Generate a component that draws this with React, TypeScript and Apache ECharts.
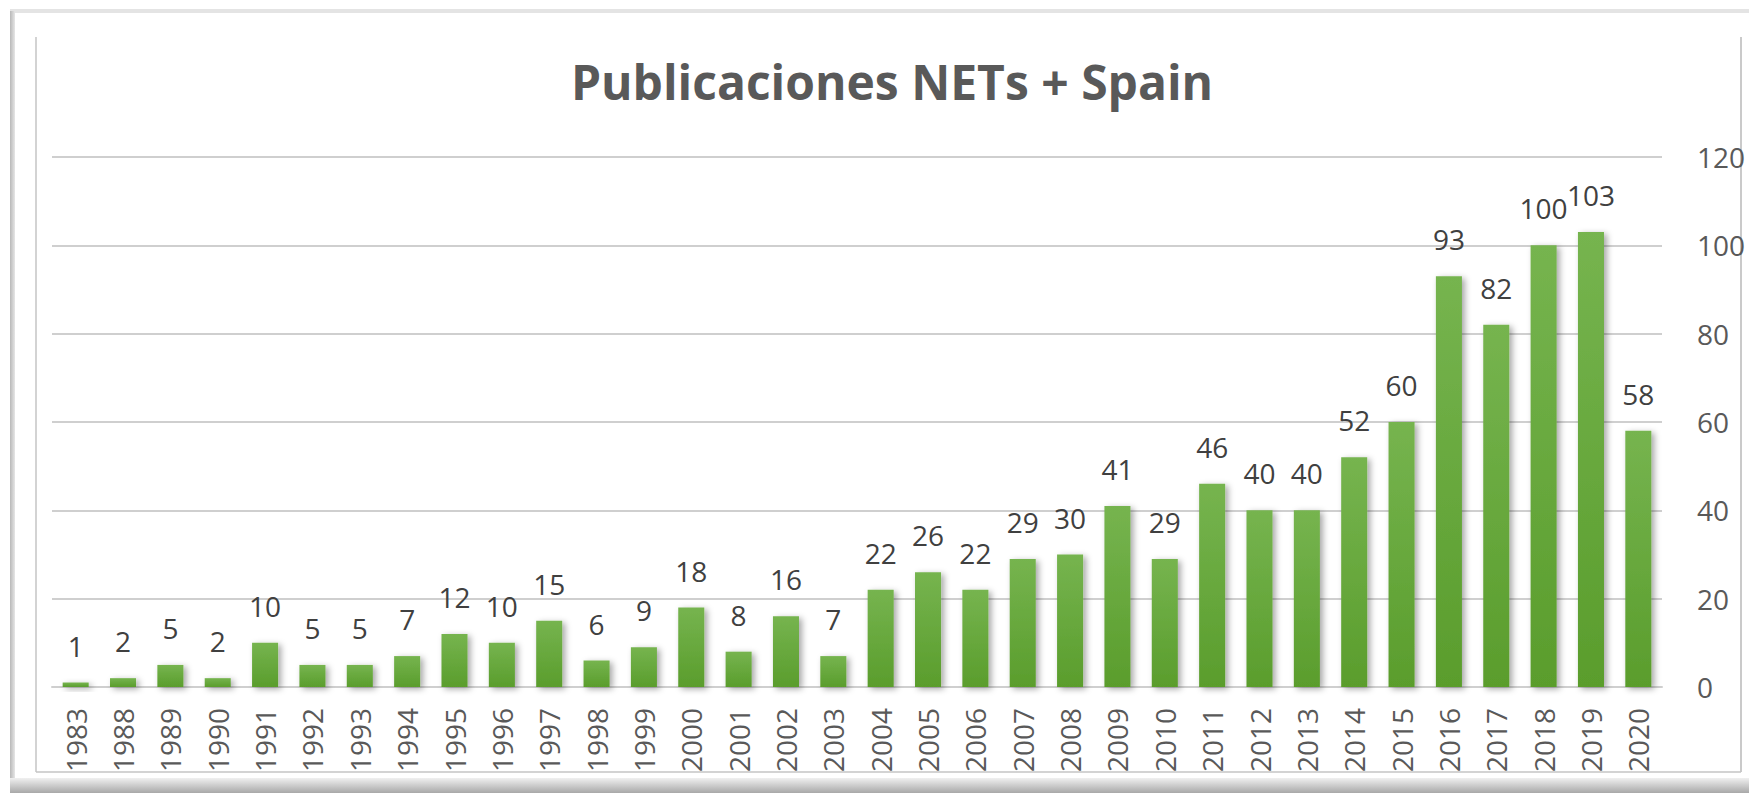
import React, { useEffect, useRef } from "react";
import * as echarts from "echarts";

const years = ["1983","1988","1989","1990","1991","1992","1993","1994","1995","1996","1997","1998","1999","2000","2001","2002","2003","2004","2005","2006","2007","2008","2009","2010","2011","2012","2013","2014","2015","2016","2017","2018","2019","2020"];
const publications = [1,2,5,2,10,5,5,7,12,10,15,6,9,18,8,16,7,22,26,22,29,30,41,29,46,40,40,52,60,93,82,100,103,58];
const titleText = "Publicaciones NETs + Spain";
const yMax = 120;
const yInterval = 20;

const W = 1749;
const H = 793;
const FONT = "'Open Sans', 'Noto Sans', sans-serif";

export default function App() {
  const ref = useRef<HTMLDivElement>(null);
  useEffect(() => {
    document.body.style.margin = "0";
    const chart = echarts.init(ref.current!, null, { renderer: "svg", width: W, height: H });
    chart.setOption({
      animation: false,
      backgroundColor: "#ffffff",
      title: {
        text: titleText,
        left: 887,
        top: 52,
        textAlign: "center",
        textStyle: { fontFamily: FONT, fontSize: 48, fontWeight: "bold", color: "#595959" },
      },
      grid: { left: 52, right: 87, top: 157, bottom: 106 },
      xAxis: {
        type: "category",
        data: years,
        axisLine: { show: true, lineStyle: { color: "#cfcfcf", width: 2 } },
        axisTick: { show: false },
        axisLabel: { rotate: 90, margin: 21, fontFamily: FONT, fontSize: 28, color: "#595959", interval: 0 },
      },
      yAxis: {
        type: "value",
        position: "right",
        min: 0,
        max: yMax,
        interval: yInterval,
        axisLine: { show: false },
        axisTick: { show: false },
        splitLine: { show: true, lineStyle: { color: "#cfcfcf", width: 2 } },
        axisLabel: { margin: 35, align: "left", fontFamily: FONT, fontSize: 28, color: "#595959" },
      },
      series: [
        {
          type: "bar",
          data: publications,
          barCategoryGap: "45%",
          itemStyle: {
            color: new echarts.graphic.LinearGradient(0, 0, 0, 1, [
              { offset: 0, color: "#76b44f" },
              { offset: 1, color: "#5a9d2c" },
            ]),
            shadowColor: "rgba(0,0,0,0.35)",
            shadowBlur: 6,
            shadowOffsetX: 3,
            shadowOffsetY: 2,
          },
          label: {
            show: true,
            position: "top",
            distance: 23,
            fontFamily: FONT,
            fontSize: 28,
            color: "#404040",
          },
        },
      ],
      graphic: [
        { type: "rect", z: -10, silent: true, shape: { x: 10, y: 9, width: 1739, height: 4 }, style: { fill: "#e4e4e4" } },
        {
          type: "rect", z: -10, silent: true,
          shape: { x: 10, y: 11, width: 5, height: 770 },
          style: { fill: new echarts.graphic.LinearGradient(1, 0, 0, 0, [{ offset: 0, color: "#e6e6e6" }, { offset: 1, color: "#b8b8b8" }]) },
        },
        {
          type: "rect", z: -10, silent: true,
          shape: { x: 10, y: 778, width: 1739, height: 15 },
          style: { fill: new echarts.graphic.LinearGradient(0, 0, 0, 1, [{ offset: 0, color: "#f0f0f0" }, { offset: 1, color: "#a8a8a8" }]) },
        },
        { type: "line", z: -5, silent: true, shape: { x1: 36, y1: 37, x2: 36, y2: 772 }, style: { stroke: "#c4c4c4", lineWidth: 1.5 } },
        { type: "line", z: -5, silent: true, shape: { x1: 1741, y1: 37, x2: 1741, y2: 772 }, style: { stroke: "#b8b8b8", lineWidth: 1.5 } },
        { type: "line", z: -5, silent: true, shape: { x1: 36, y1: 772, x2: 1741, y2: 772 }, style: { stroke: "#c4c4c4", lineWidth: 1.5 } },
      ],
    });
    return () => chart.dispose();
  }, []);
  return <div ref={ref} style={{ width: W, height: H, position: "absolute", left: 0, top: 0 }} />;
}
